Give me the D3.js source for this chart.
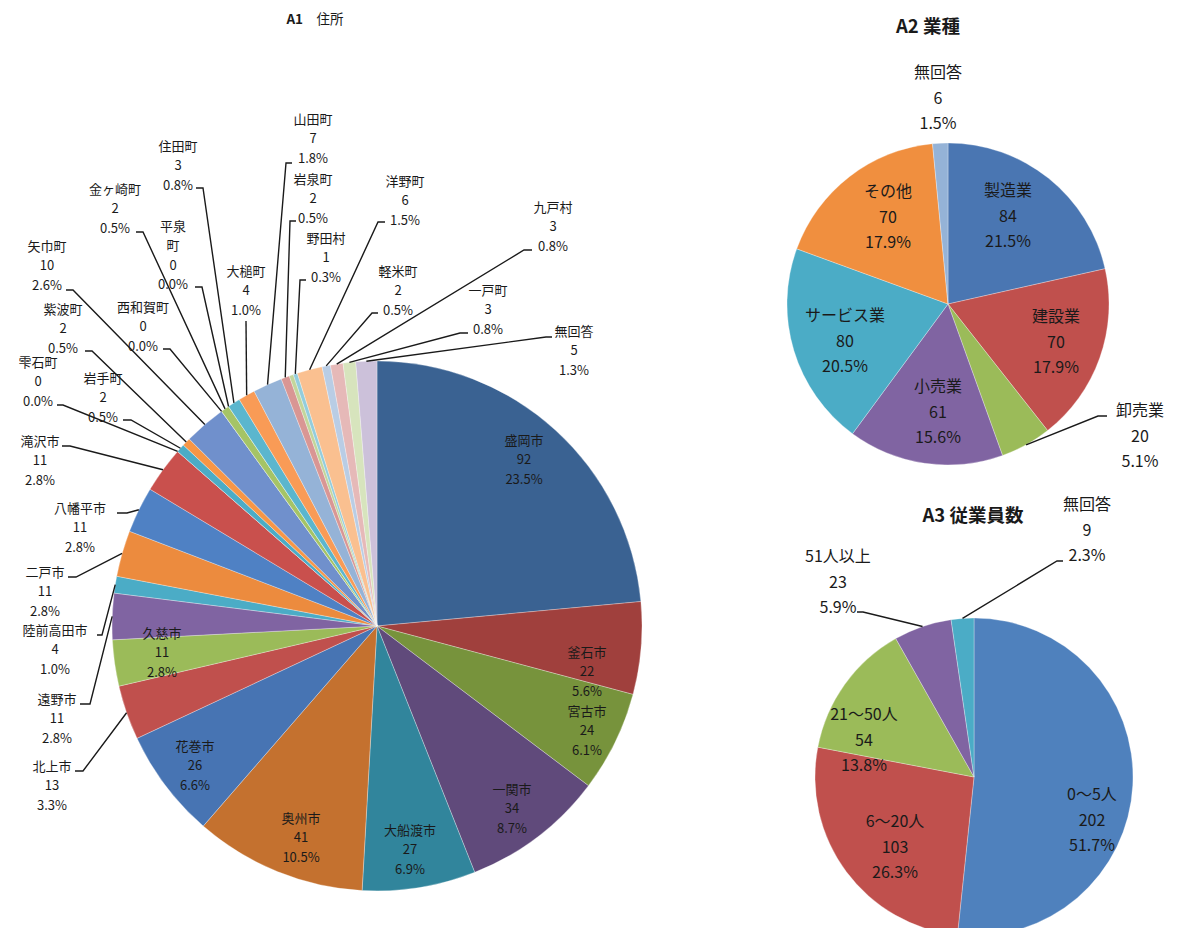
<!DOCTYPE html>
<html><head><meta charset="utf-8">
<script src="https://cdn.jsdelivr.net/npm/d3@7"></script>
<style>
body{margin:0;background:#fff;}
text{font-family:"Noto Sans CJK JP","Noto Sans",sans-serif;fill:#1a1a1a;}
</style>
</head><body>
<svg id="c" width="1178" height="928"></svg>
<script>
// ---------- DATA ----------
const a1Names = ["盛岡市","釜石市","宮古市","一関市","大船渡市","奥州市","花巻市","北上市","久慈市","遠野市","陸前高田市","二戸市","八幡平市","滝沢市","雫石町","岩手町","紫波町","矢巾町","西和賀町","金ヶ崎町","平泉町","住田町","大槌町","山田町","岩泉町","田野畑村","野田村","洋野町","軽米町","九戸村","一戸町","無回答"];
const a1Values = [92,22,24,34,27,41,26,13,11,11,4,11,11,11,0,2,2,10,0,2,0,3,4,7,2,1,1,6,2,3,3,5];

const a2Names = ["製造業","建設業","卸売業","小売業","サービス業","その他","無回答"];
const a2Values = [84,70,20,61,80,70,6];

const a3Names = ["0～5人","6～20人","21～50人","51人以上","無回答"];
const a3Values = [202,103,54,23,9];

// ---------- STYLE / LAYOUT ----------
const a1Colors = ["#3A6292","#A0403D","#77933C","#604A7B","#31859C","#C4712F","#4774B3","#C0504D","#9BBB59","#8064A2","#4BACC6","#EC8B3E","#4F81C4","#C9504D","#A5C466","#4BACC6","#F79646","#7090CC","#D0625F","#A5C466","#8F76B0","#5BB6CE","#F99B56","#95B3D7","#D99694","#C3D69B","#93CDDD","#FAC090","#B9CDE5","#E6B9B8","#D7E4BD","#CCC1DA"];
const a2Colors = ["#4A76B2","#C0504D","#9BBB59","#8064A2","#4BACC6","#F08F3F","#95B3D7"];
const a3Colors = ["#4F81BD","#C0504D","#9BBB59","#8064A2","#4BACC6"];

// label layout: x = text centre, y = first line centre, leader: [startX, startY, elbowX]
const a1Layout = {
  "盛岡市":{x:524,y:441}, "釜石市":{x:587,y:653}, "宮古市":{x:587,y:712},
  "一関市":{x:512,y:790}, "大船渡市":{x:410,y:831}, "奥州市":{x:301,y:819},
  "花巻市":{x:195,y:747}, "久慈市":{x:162,y:634},
  "北上市":{x:52,y:767,leader:[75,771,83]},
  "遠野市":{x:57,y:700,leader:[80,704,90]},
  "陸前高田市":{x:55,y:631,leader:[97,635,102]},
  "二戸市":{x:45,y:573,leader:[68,577,76]},
  "八幡平市":{x:80,y:509,leader:[117,513,127]},
  "滝沢市":{x:40,y:442,leader:[62,446,70]},
  "雫石町":{x:38,y:363,leader:[57,405,63]},
  "岩手町":{x:103,y:379,leader:[123,420,131]},
  "紫波町":{x:63,y:310,leader:[85,351,92]},
  "矢巾町":{x:47,y:247,leader:[66,290,73]},
  "西和賀町":{x:143,y:308,leader:[163,349,170]},
  "金ヶ崎町":{x:115,y:190,leader:[136,232,143]},
  "平泉町":{x:173,y:227,split:["平泉","町"],leader:[195,287,202]},
  "住田町":{x:178,y:147,leader:[196,188,203]},
  "大槌町":{x:246,y:272,leader:[246,321,246]},
  "山田町":{x:313,y:120,leader:[292,163,286]},
  "岩泉町":{x:313,y:180,leader:[296,221,290]},
  "野田村":{x:326,y:239,leader:[306,280,300]},
  "洋野町":{x:405,y:182,leader:[385,222,378]},
  "軽米町":{x:398,y:272,leader:[378,313,372]},
  "九戸村":{x:553,y:208,leader:[532,250,524]},
  "一戸町":{x:488,y:291,leader:[468,333,460]},
  "無回答":{x:574,y:332,leader:[552,337,546]}
};
const a2Layout = {
  "製造業":{x:1008,y:192}, "建設業":{x:1056,y:318},
  "卸売業":{x:1140,y:412,leader:[1107,416,1098]},
  "小売業":{x:938,y:388}, "サービス業":{x:845,y:317},
  "その他":{x:888,y:193}, "無回答":{x:938,y:74}
};
const a3Layout = {
  "0～5人":{x:1092,y:796}, "6～20人":{x:895,y:823}, "21～50人":{x:864,y:716},
  "51人以上":{x:838,y:558,leader:[857,612,863]},
  "無回答":{x:1087,y:506,leader:[1063,561,1057]}
};

const svg = d3.select("#c");

function drawPie(names, values, colors, cx, cy, r, layout, fs, lh){
  const total = d3.sum(values);
  const data = names.map((n,i)=>({name:n, v:values[i], color:colors[i]}));
  const pie = d3.pie().sort(null).value(d=>d.v);
  const arcs = pie(data);
  const arc = d3.arc().innerRadius(0).outerRadius(r);
  const edge = d3.arc().innerRadius(r).outerRadius(r);
  const g = svg.append("g").attr("transform",`translate(${cx},${cy})`);
  g.selectAll("path.s").data(arcs).join("path").attr("class","s")
    .attr("d",arc).attr("fill",d=>d.data.color)
    .attr("stroke","#ffffff").attr("stroke-opacity",0.5).attr("stroke-width",0.6);
  const fmt = d3.format(".1f");
  const lg = svg.append("g");
  arcs.forEach(d=>{
    const L = layout[d.data.name];
    if(!L) return;
    if(L.leader){
      const [sx,sy,ex] = L.leader;
      const p = edge.centroid(d);
      lg.append("polyline")
        .attr("points",`${sx},${sy} ${ex},${sy} ${cx+p[0]},${cy+p[1]}`)
        .attr("fill","none").attr("stroke","#1a1a1a").attr("stroke-width",1.4);
    }
  });
  arcs.forEach(d=>{
    const L = layout[d.data.name];
    if(!L) return;
    const lines = (L.split || [d.data.name]).concat([String(d.data.v), fmt(d.data.v/total*100)+"%"]);
    const t = lg.append("text").attr("text-anchor","middle").attr("font-size",fs);
    lines.forEach((s,i)=>{
      t.append("tspan").attr("x",L.x).attr("y",L.y+i*lh).attr("dominant-baseline","middle").text(s);
    });
  });
}

drawPie(a1Names,a1Values,a1Colors,377,626,265,a1Layout,13,19.5);
drawPie(a2Names,a2Values,a2Colors,948,304,161,a2Layout,16,25.5);
drawPie(a3Names,a3Values,a3Colors,974,777,159,a3Layout,16,25.5);

// titles
const t1 = svg.append("text").attr("x",315).attr("y",20).attr("text-anchor","middle").attr("dominant-baseline","middle").attr("font-size",13.5);
t1.append("tspan").attr("font-weight","bold").text("A1");
t1.append("tspan").text("\u3000住所");
svg.append("text").attr("x",928).attr("y",28).attr("text-anchor","middle").attr("dominant-baseline","middle")
  .attr("font-size",18.5).attr("font-weight","bold").text("A2 業種");
svg.append("text").attr("x",973).attr("y",517).attr("text-anchor","middle").attr("dominant-baseline","middle")
  .attr("font-size",18.5).attr("font-weight","bold").text("A3 従業員数");
</script>
</body></html>
